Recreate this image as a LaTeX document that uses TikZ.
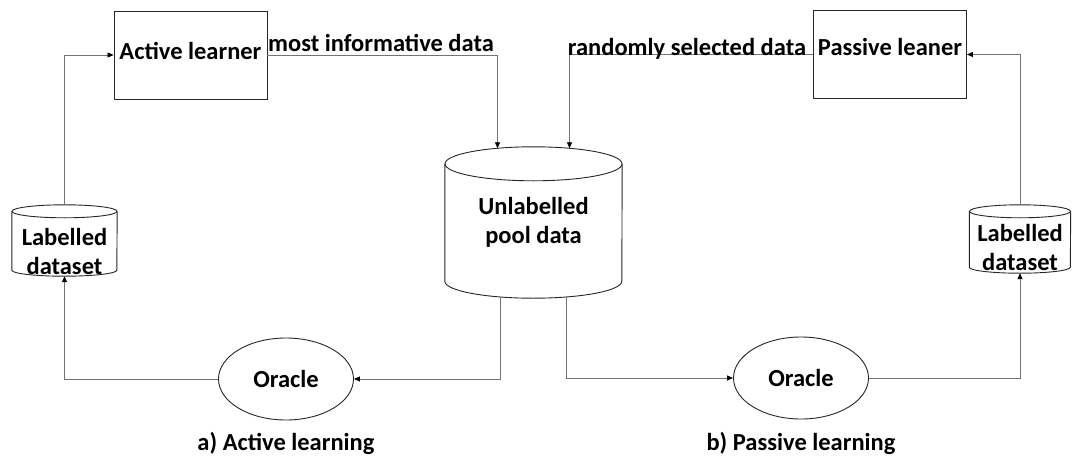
\documentclass[tikz,border=0pt]{standalone}
\usepackage{fontspec}
\setmainfont{Carlito}
\usetikzlibrary{shapes.geometric,arrows.meta,calc}

\begin{document}
\begin{tikzpicture}[x=1pt,y=-1pt,
  every node/.style={font=\fontsize{24.5}{29}\selectfont\bfseries, inner sep=0pt},
  learner/.style={draw=black!85, line width=0.9pt, minimum width=153pt, minimum height=88pt},
  oracle/.style={ellipse, draw=black!85, line width=0.9pt, minimum width=135pt, minimum height=82pt},
  store/.style={align=center},
  cyl/.style={draw=black!85, line width=0.9pt},
  conn/.style={draw=black!55, line width=0.8pt, -{Triangle[length=6pt,width=5pt,color=black]}},
]
\useasboundingbox (0,0) rectangle (1077,466);

% learners
\node[learner, text depth=7.4pt] (al) at (190.5,55) {Active learner};
\node[learner, text depth=16pt] (pl) at (890,54.5) {Passive leaner};

% oracles
\node[oracle] (orL) at (286,379) {Oracle};
\node[oracle] (orR) at (801,378) {Oracle};

% cylinder frames
\node[minimum width=177pt, minimum height=151pt] (pool) at (533.5,222.5) {};
\node[minimum width=105pt, minimum height=71pt] (labL) at (64.5,240.5) {};
\node[minimum width=101pt, minimum height=68pt] (labR) at (1020,239) {};

% cylinder outlines
\draw[cyl] ($(pool.north)+(0,17)$) ellipse [x radius=88.5pt, y radius=17pt];
\draw[cyl] ($(pool.north west)+(0,17)$) -- ($(pool.south west)+(0,-17)$)
  arc[start angle=180, end angle=360, x radius=88.5pt, y radius=17pt]
  -- ($(pool.north east)+(0,17)$);

\draw[cyl] ($(labL.north)+(0,6.5)$) ellipse [x radius=52.5pt, y radius=6.5pt];
\draw[cyl] ($(labL.north west)+(0,6.5)$) -- ($(labL.south west)+(0,-6)$)
  arc[start angle=180, end angle=360, x radius=52.5pt, y radius=6pt]
  -- ($(labL.north east)+(0,6.5)$);

\draw[cyl] ($(labR.north)+(0,6.5)$) ellipse [x radius=50.5pt, y radius=6.5pt];
\draw[cyl] ($(labR.north west)+(0,6.5)$) -- ($(labR.south west)+(0,-6)$)
  arc[start angle=180, end angle=360, x radius=50.5pt, y radius=6pt]
  -- ($(labR.north east)+(0,6.5)$);

% cylinder texts
\node[store] (poolt) at (533.5,222.5) {Unlabelled\\pool data};
\node[store] (labLt) at (64.5,251) {Labelled\\dataset};
\node[store] (labRt) at (1020,247.5) {Labelled\\dataset};

% connectors
\draw[conn] (labL.north) |- (al.west);
\draw[conn] (al.east) -| ($(pool.north)+(-36,1.5)$);
\draw[conn] (pl.west) -| ($(pool.north)+(36,1.5)$);
\draw[conn] (labR.north) |- (pl.east);
\draw[conn] ($(pool.south)+(-33,-1.5)$) |- (orL.east);
\draw[conn] ($(pool.south)+(33,-1.5)$) |- (orR.west);
\draw[conn] (orL.west) -| (labL.south);
\draw[conn] (orR.east) -| (labR.south);

% connector labels
\node (t1) at (381,43) {most informative data};
\node (t2) at (687,48.5) {randomly selected data};

% captions
\node (capA) at (286,443) {a) Active learning};
\node (capB) at (801,443) {b) Passive learning};
\end{tikzpicture}
\end{document}
